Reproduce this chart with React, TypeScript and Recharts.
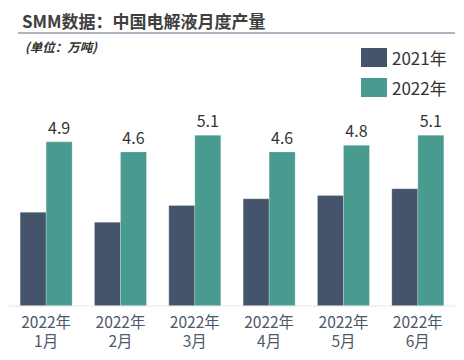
import { BarChart, Bar, XAxis, YAxis, LabelList } from "recharts";

// 月度产量（万吨）
const months = ["1月", "2月", "3月", "4月", "5月", "6月"];
const yearLabel = "2022年";
const output2021 = [2.8, 2.5, 3.0, 3.2, 3.3, 3.5];
const output2022 = [4.9, 4.6, 5.1, 4.6, 4.8, 5.1];

const COLOR_2021 = "#44546a";
const COLOR_2022 = "#4a9b8f";
const FONT = '"Noto Sans CJK SC", "Noto Sans", sans-serif';

const data = months.map((m, i) => ({
  month: m,
  y2021: output2021[i],
  y2022: output2022[i],
}));

// two separate lines: year on top, month below
function MonthTick({ x, y, payload }: any) {
  return (
    <g>
      <text x={x} y={y + 14} textAnchor="middle" fill="#4d586a" fontSize={15.5} fontFamily={FONT}>
        {yearLabel}
      </text>
      <text x={x} y={y + 33} textAnchor="middle" fill="#4d586a" fontSize={15.5} fontFamily={FONT}>
        {payload.value}
      </text>
    </g>
  );
}

function LegendBox() {
  const items = [
    { label: "2021年", color: COLOR_2021 },
    { label: "2022年", color: COLOR_2022 },
  ];
  return (
    <div style={{ position: "absolute", left: 361, top: 48, fontFamily: FONT }}>
      {items.map((it) => (
        <div key={it.label} style={{ display: "flex", alignItems: "center", height: 19, marginBottom: 11 }}>
          <div style={{ width: 26, height: 19, background: it.color, marginRight: 5 }} />
          <span style={{ fontSize: 17, color: "#333", lineHeight: "19px" }}>{it.label}</span>
        </div>
      ))}
    </div>
  );
}

export default function App() {
  return (
    <div style={{ position: "absolute", left: 0, top: 0, width: 464, height: 360, background: "#fff", fontFamily: FONT }}>
      <div style={{ position: "absolute", left: 22, top: 8, fontSize: 17, fontWeight: 700, color: "#404040", whiteSpace: "nowrap" }}>
        SMM数据：中国电解液月度产量
      </div>
      <div style={{ position: "absolute", left: 18, top: 32, width: 437, height: 2, background: "#b0b4c0" }} />
      <div style={{ position: "absolute", left: 25, top: 37, fontSize: 12.5, fontWeight: 700, fontStyle: "italic", color: "#333", whiteSpace: "nowrap" }}>
        (单位：万吨)
      </div>
      <BarChart
        width={464}
        height={360}
        data={data}
        margin={{ top: 105, right: 9, left: 9, bottom: 0 }}
        barCategoryGap="15%"
        barGap={0}
      >
        <XAxis
          dataKey="month"
          height={54}
          axisLine={{ stroke: "#e6e6e6" }}
          tickLine={false}
          interval={0}
          tick={<MonthTick />}
        />
        <YAxis hide domain={[0, 6]} />
        <Bar dataKey="y2021" fill={COLOR_2021} stroke="#ffffff" strokeOpacity={0.4} strokeWidth={0.6} isAnimationActive={false} />
        <Bar dataKey="y2022" fill={COLOR_2022} stroke="#ffffff" strokeOpacity={0.4} strokeWidth={0.6} isAnimationActive={false}>
          <LabelList dataKey="y2022" position="top" offset={8} fill="#333" fontSize={16} fontFamily={FONT} />
        </Bar>
      </BarChart>
      <LegendBox />
    </div>
  );
}
